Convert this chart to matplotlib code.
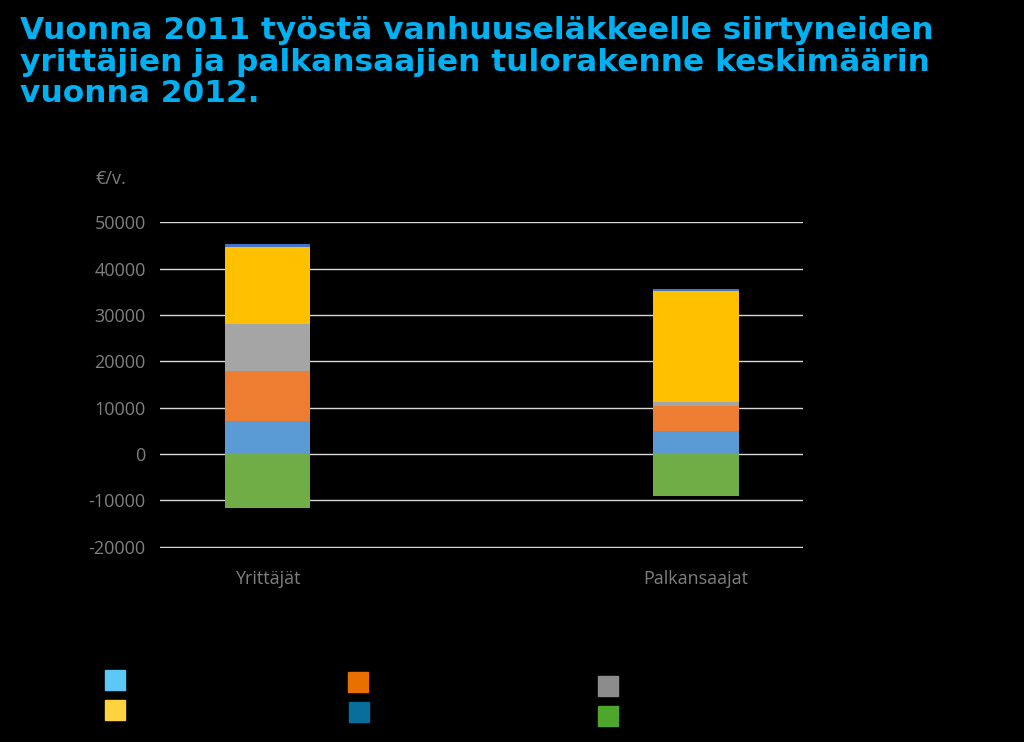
import matplotlib.pyplot as plt
import matplotlib.patches as mpatches
import numpy as np

plt.rcParams["axes.unicode_minus"] = False

GROUPS = ["Yrittäjät", "Palkansaajat"]
# stacked components (€/v.), bottom to top above zero
SEG_BLUE = [7100, 4900]
SEG_ORANGE = [10700, 5400]
SEG_GRAY = [10300, 900]
SEG_YELLOW = [16500, 24000]
SEG_DARKBLUE = [800, 400]
SEG_GREEN = [-11600, -9000]

BAR_COLORS = ["#5B9BD5", "#ED7D31", "#A5A5A5", "#FFC000", "#4472C4"]
LEGEND_COLORS = ["#5BC8F5", "#E87000", "#8C8C8C", "#FFD23F", "#0A6E9C", "#4EA72A"]

fig = plt.figure(figsize=(10.24, 7.42), dpi=100, facecolor="black")
fig.text(0.02, 0.978,
         "Vuonna 2011 työstä vanhuuseläkkeelle siirtyneiden\n"
         "yrittäjien ja palkansaajien tulorakenne keskimäärin\n"
         "vuonna 2012.",
         color="#00B0F0", fontsize=22.5, fontweight="bold", va="top", ha="left",
         family="DejaVu Sans", linespacing=1.1)

ax = fig.add_axes([0.156, 0.2615, 0.628, 0.439])
ax.set_facecolor("black")
x = np.arange(len(GROUPS))
w = 0.2
bottom = np.zeros(len(GROUPS))
for vals, c in zip([SEG_BLUE, SEG_ORANGE, SEG_GRAY, SEG_YELLOW, SEG_DARKBLUE], BAR_COLORS):
    ax.bar(x, vals, w, bottom=bottom, color=c, zorder=3)
    bottom += np.array(vals)
ax.bar(x, SEG_GREEN, w, color="#70AD47", zorder=3)

ax.set_xlim(-0.252, 1.25)
ax.set_ylim(-20300, 50000)
ax.set_yticks(range(-20000, 50001, 10000))
ax.grid(axis="y", color="#d9d9d9", lw=1, zorder=0)
for s in ax.spines.values():
    s.set_visible(False)
ax.tick_params(length=0, colors="#7f7f7f", labelsize=13, pad=10)
ax.set_xticks(x)
ax.set_xticklabels(GROUPS)
ax.tick_params(axis="x", pad=16)
for lab in ax.get_xticklabels() + ax.get_yticklabels():
    lab.set_family("Open Sans")
fig.text(0.093, 0.752, "€/v.", color="#7f7f7f", fontsize=13, family="Open Sans")

# legend squares (labels not visible in the original)
pos = [(0.103, 0.070), (0.340, 0.068), (0.584, 0.062),
       (0.103, 0.030), (0.341, 0.027), (0.584, 0.022)]
for (px, py), c in zip(pos, LEGEND_COLORS):
    fig.patches.append(mpatches.Rectangle((px, py), 0.0195, 0.027, color=c,
                                          transform=fig.transFigure, figure=fig))

fig.savefig("out.png", dpi=100, facecolor="black")
